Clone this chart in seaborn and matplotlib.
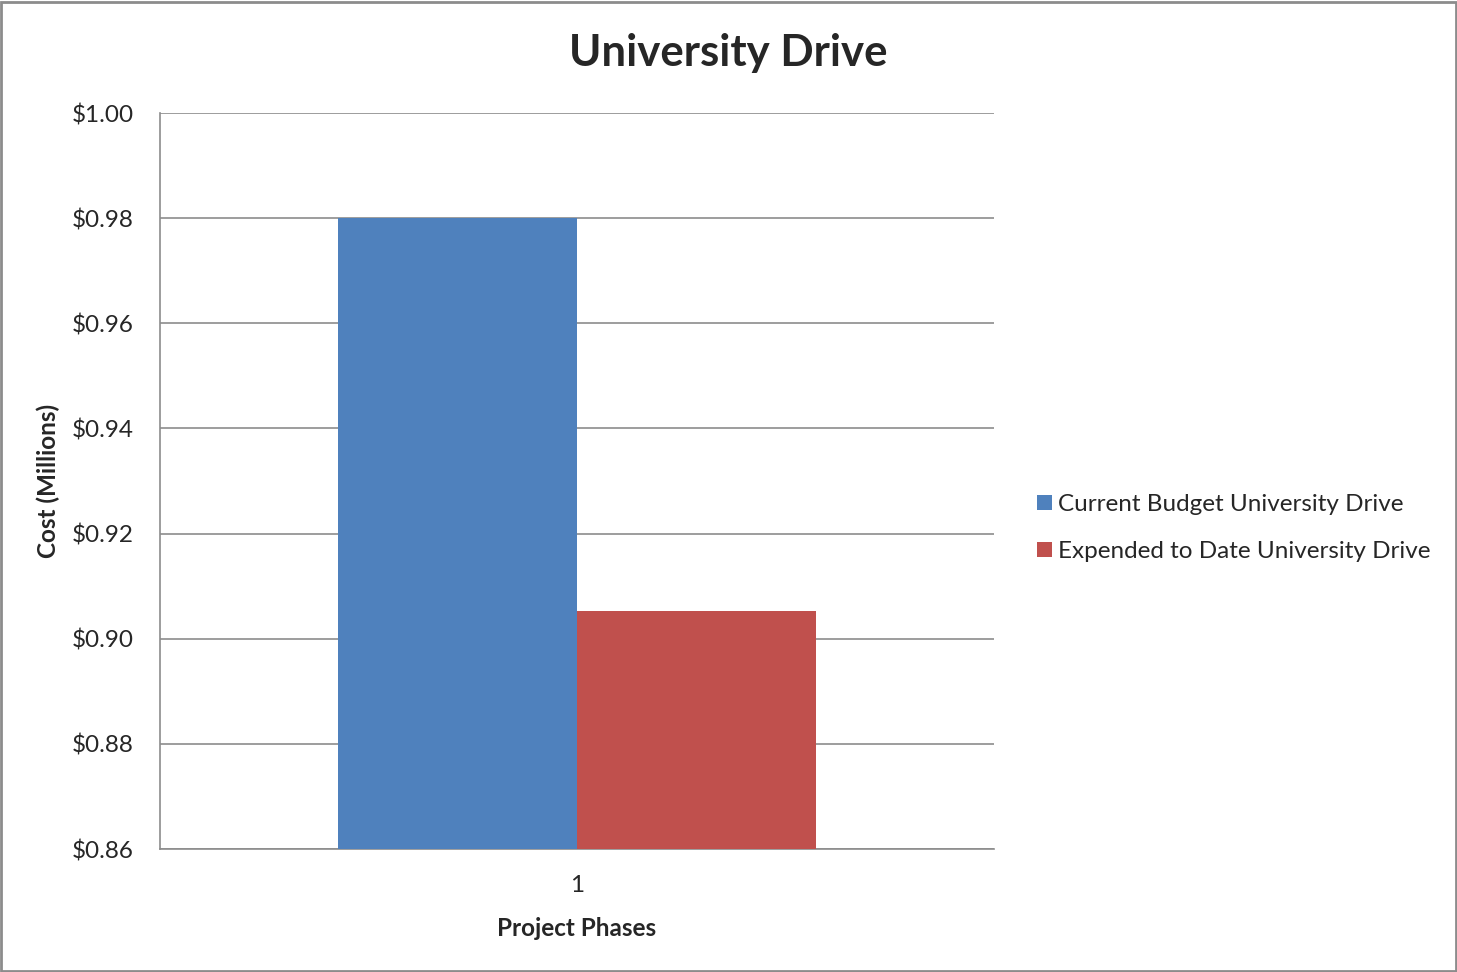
import matplotlib
matplotlib.use('Agg')
from matplotlib import pyplot as plt
from matplotlib.ticker import FuncFormatter, MultipleLocator
from matplotlib.patches import Rectangle
import pandas as pd
import seaborn as sns

phases = ['1']
series = ['Current Budget University Drive', 'Expended to Date University Drive']
budget = [0.98]
expended = [0.9053]
colors = ['#4F81BD', '#C0504D']

df = pd.DataFrame({
    'phase': phases * 2,
    'series': [series[0]] * len(phases) + [series[1]] * len(phases),
    'cost': budget + expended,
})

sns.set_style('white')
plt.rcParams['font.family'] = ['Lato', 'DejaVu Sans']

fig = plt.figure(figsize=(14.57, 9.72), dpi=100)
ax = fig.add_axes([160 / 1457, 1 - 849 / 972, 834 / 1457, 736 / 972])

sns.barplot(data=df, x='phase', y='cost', hue='series', palette=colors,
            width=0.573, saturation=1, linewidth=0, ax=ax, zorder=3)

ax.set_ylim(0.86, 1.00)
ax.set_xlim(-0.5, 0.5)
ax.yaxis.set_major_locator(MultipleLocator(0.02))
ax.yaxis.set_major_formatter(FuncFormatter(lambda v, p: f'${v:.2f}'))
ax.grid(axis='y', color='#8c8c8c', linewidth=1.2, zorder=0)
ax.set_axisbelow(True)

for s in ['top', 'right']:
    ax.spines[s].set_visible(False)
for s in ['left', 'bottom']:
    ax.spines[s].set_color('#8c8c8c')
    ax.spines[s].set_linewidth(1.2)

ax.tick_params(axis='y', length=8, width=1.2, color='#8c8c8c', labelsize=17.5, pad=11)
ax.tick_params(axis='x', length=0, labelsize=17.5, pad=19)
ax.set_xlabel('Project Phases', fontsize=17.5, fontweight='bold', labelpad=15)
ax.set_ylabel('Cost (Millions)', fontsize=17.5, fontweight='bold', labelpad=8)
fig.suptitle('University Drive', x=728 / 1457, y=1 - 53 / 972, va='center',
             fontsize=31.5, fontweight='bold')

leg = ax.legend(loc='center left', bbox_to_anchor=(1.0256, 0.436), frameon=False,
                fontsize=17.5, handlelength=0.6, handleheight=0.6,
                handletextpad=0.25, labelspacing=1.05)

fig.patches.append(Rectangle((0.001, 0.001), 0.998, 0.997, transform=fig.transFigure,
                             fill=False, edgecolor='#8c8c8c', linewidth=2))

fig.savefig('out.png', dpi=100)
